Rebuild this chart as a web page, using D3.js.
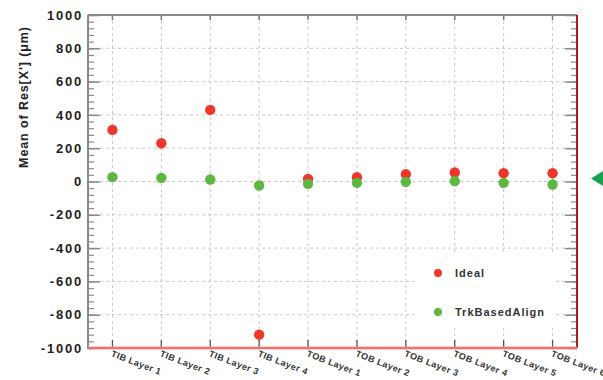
<!DOCTYPE html>
<html>
<head>
<meta charset="utf-8">
<script src="https://cdn.jsdelivr.net/npm/d3@7"></script>
<style>
  html, body { margin: 0; padding: 0; background: #fff; }
  svg { display: block; }
  text { font-family: "Liberation Sans", Arial, sans-serif; }
</style>
</head>
<body>
<svg id="chart" width="603" height="380"></svg>
<script>
// Layer categories along x
const layers = ["TIB Layer 1", "TIB Layer 2", "TIB Layer 3", "TIB Layer 4",
                "TOB Layer 1", "TOB Layer 2", "TOB Layer 3", "TOB Layer 4",
                "TOB Layer 5", "TOB Layer 6"];
// Mean residuals (µm) per layer
const idealValues = [310, 230, 430, -920, 16, 26, 44, 54, 50, 50];
const trkBasedValues = [26, 22, 12, -24, -14, -8, -2, 2, -8, -18];
const yTickValues = [-1000, -800, -600, -400, -200, 0, 200, 400, 600, 800, 1000];
const seriesNames = ["Ideal", "TrkBasedAlign"];

const svg = d3.select("#chart");
const plotLeft = 88, plotRight = 577, plotTop = 15, plotBottom = 348;

const x = d3.scaleBand().domain(layers).range([plotLeft, plotRight]);
const y = d3.scaleLinear().domain([-1000, 1000]).range([plotBottom, plotTop]);
const cx = d => x(d) + x.bandwidth() / 2;

const gridColor = "#c8c8c8";
const axisColor = "#8a8a8a";

// dashed grid
const grid = svg.append("g");
grid.selectAll(".vg").data(layers).join("line")
  .attr("x1", cx).attr("x2", cx).attr("y1", plotTop).attr("y2", plotBottom)
  .attr("stroke", gridColor).attr("stroke-width", 1).attr("stroke-dasharray", "3,3");
grid.selectAll(".hg").data(yTickValues.filter(v => v > -1000 && v < 1000)).join("line")
  .attr("x1", plotLeft).attr("x2", plotRight).attr("y1", d => y(d)).attr("y2", d => y(d))
  .attr("stroke", gridColor).attr("stroke-width", 1).attr("stroke-dasharray", "3,3");

// left axis with major and minor ticks pointing inward
const minorTicks = d3.range(-1000, 1001, 40);
const leftAxis = d3.axisRight(y).tickValues(minorTicks).tickSize(6).tickFormat("");
const gL = svg.append("g").attr("transform", `translate(${plotLeft},0)`).call(leftAxis);
gL.select(".domain").remove();
gL.selectAll("line").attr("stroke", axisColor).attr("stroke-width", 1.2);
const leftMajor = d3.axisRight(y).tickValues(yTickValues).tickSize(12).tickFormat("");
const gLM = svg.append("g").attr("transform", `translate(${plotLeft},0)`).call(leftMajor);
gLM.select(".domain").remove();
gLM.selectAll("line").attr("stroke", axisColor).attr("stroke-width", 1.5);

// right axis ticks pointing inward
const rightAxis = d3.axisLeft(y).tickValues(minorTicks).tickSize(6).tickFormat("");
const gR = svg.append("g").attr("transform", `translate(${plotRight},0)`).call(rightAxis);
gR.select(".domain").remove();
gR.selectAll("line").attr("stroke", axisColor).attr("stroke-width", 1.2);
const rightMajor = d3.axisLeft(y).tickValues(yTickValues).tickSize(12).tickFormat("");
const gRM = svg.append("g").attr("transform", `translate(${plotRight},0)`).call(rightMajor);
gRM.select(".domain").remove();
gRM.selectAll("line").attr("stroke", axisColor).attr("stroke-width", 1.5);

// y tick labels
svg.append("g").selectAll("text").data(yTickValues).join("text")
  .attr("x", plotLeft - 5).attr("y", d => y(d)).attr("dy", "0.36em")
  .attr("text-anchor", "end").attr("font-size", 13).attr("font-weight", "bold")
  .attr("fill", "#222").attr("letter-spacing", "1.8")
  .text(d => d);

// x ticks at top (down) and bottom (up)
const topAxis = d3.axisBottom(x).tickSize(5).tickFormat("");
const gT = svg.append("g").attr("transform", `translate(0,${plotTop})`).call(topAxis);
gT.select(".domain").remove();
gT.selectAll("line").attr("stroke", "#777").attr("stroke-width", 1.5);
const botAxis = d3.axisTop(x).tickSize(8).tickFormat("");
const gB = svg.append("g").attr("transform", `translate(0,${plotBottom})`).call(botAxis);
gB.select(".domain").remove();
gB.selectAll("line").attr("stroke", "#555").attr("stroke-width", 1.3);

// frame
svg.append("line").attr("x1", plotLeft).attr("x2", plotLeft).attr("y1", plotTop).attr("y2", plotBottom + 1)
  .attr("stroke", axisColor).attr("stroke-width", 2);
svg.append("line").attr("x1", plotLeft).attr("x2", plotRight).attr("y1", plotTop).attr("y2", plotTop)
  .attr("stroke", axisColor).attr("stroke-width", 2);
svg.append("line").attr("x1", plotRight).attr("x2", plotRight).attr("y1", plotTop).attr("y2", plotBottom)
  .attr("stroke", "#b01818").attr("stroke-width", 2);
svg.append("line").attr("x1", plotLeft).attr("x2", plotRight).attr("y1", plotBottom).attr("y2", plotBottom)
  .attr("stroke", "#f4a0a0").attr("stroke-width", 3);
svg.append("line").attr("x1", plotLeft).attr("x2", plotRight).attr("y1", plotBottom).attr("y2", plotBottom)
  .attr("stroke", "#e04848").attr("stroke-width", 1);

// x labels, slanted
svg.append("g").selectAll("text").data(layers).join("text")
  .attr("transform", d => `translate(${cx(d) - 2},${plotBottom + 8}) rotate(21)`)
  .attr("font-size", 9).attr("font-weight", "bold").attr("fill", "#333")
  .attr("letter-spacing", "0.4")
  .text(d => d);

// axis title
svg.append("text")
  .attr("transform", `translate(28,97) rotate(-90)`)
  .attr("text-anchor", "middle").attr("font-size", 12.5).attr("font-weight", "bold")
  .attr("fill", "#222").attr("letter-spacing", "0.9")
  .text("Mean of Res[X'] (\u03bcm)");

// legend background
svg.append("rect").attr("x", 417).attr("y", 255).attr("width", 136).attr("height", 73)
  .attr("fill", "#fff");

// markers
const red = "#f0362a", green = "#5cb840";
svg.append("g").selectAll("circle").data(layers).join("circle")
  .attr("cx", cx).attr("cy", (d, i) => y(idealValues[i])).attr("r", 5.2).attr("fill", red);
svg.append("g").selectAll("circle").data(layers).join("circle")
  .attr("cx", cx).attr("cy", (d, i) => y(trkBasedValues[i])).attr("r", 5.2).attr("fill", green);

// legend
const legend = svg.append("g");
[red, green].forEach((c, i) => {
  const ly = 273 + i * 39;
  legend.append("circle").attr("cx", 438).attr("cy", ly).attr("r", 4).attr("fill", c);
  legend.append("text").attr("x", 455).attr("y", ly).attr("dy", "0.36em")
    .attr("font-size", 11).attr("font-weight", "bold").attr("fill", "#333")
    .attr("letter-spacing", "1")
    .text(seriesNames[i]);
});

// pointer marker at the zero line on the right
svg.append("path")
  .attr("d", `M591,${y(0) - 3} L604,${y(0) - 11} L604,${y(0) + 5} Z`)
  .attr("fill", "#16a050");
</script>
</body>
</html>
